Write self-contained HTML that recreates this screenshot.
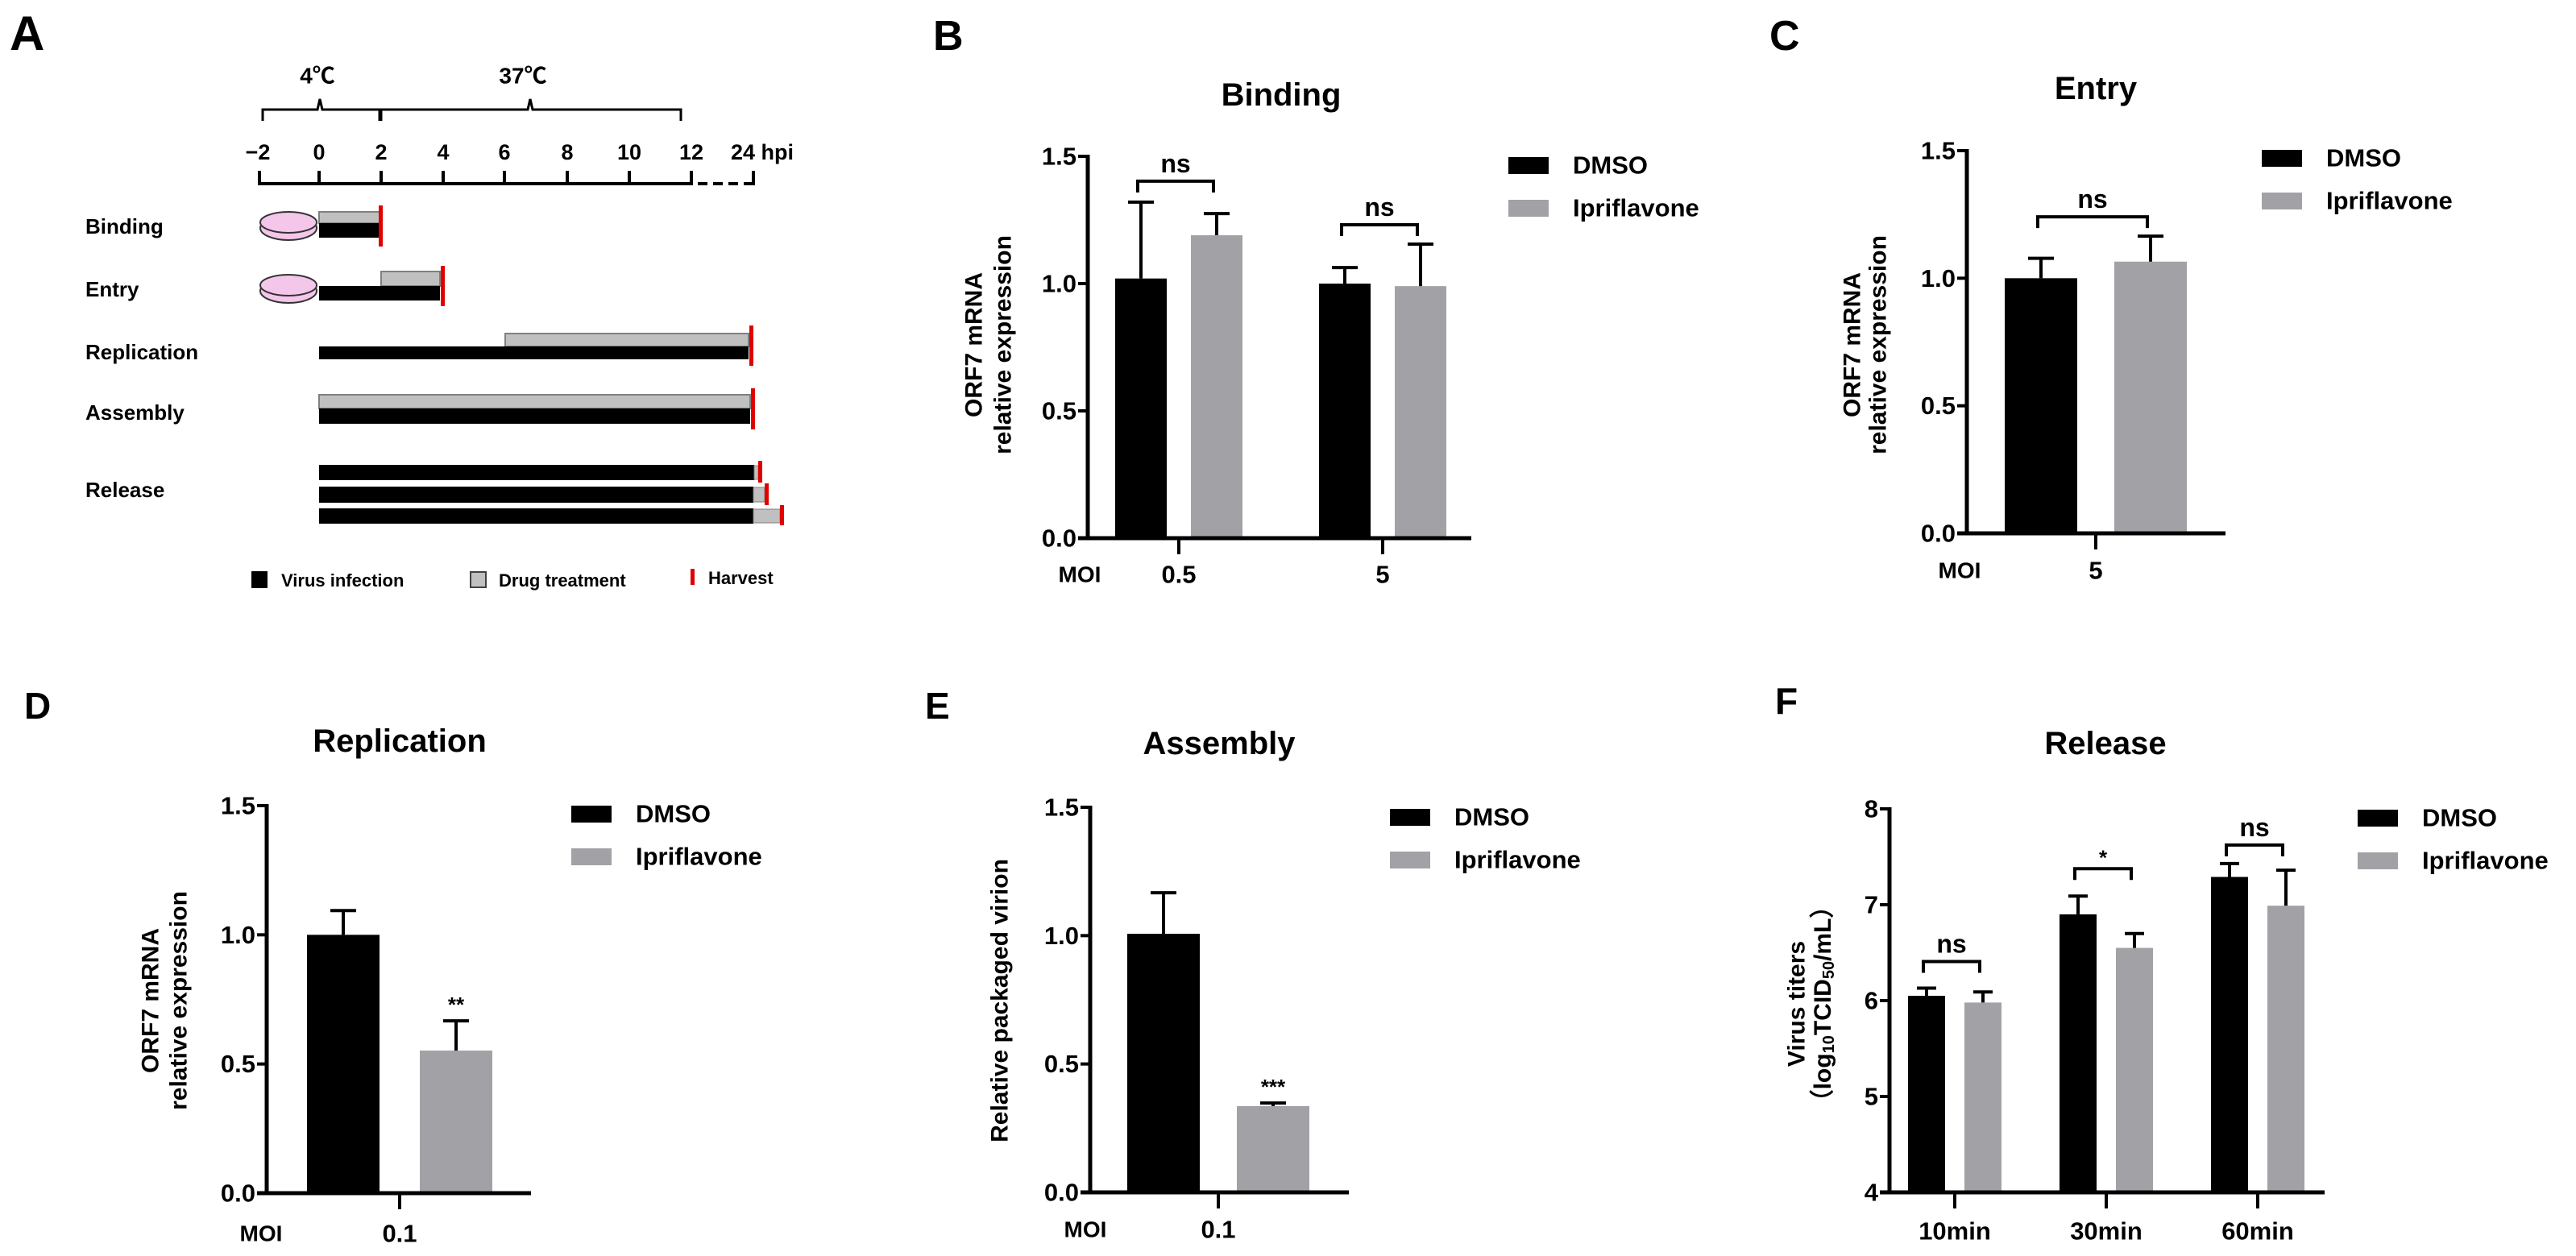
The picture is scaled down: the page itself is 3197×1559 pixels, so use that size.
<!DOCTYPE html>
<html><head><meta charset="utf-8">
<style>
html,body{margin:0;padding:0;background:#fff;}
svg{display:block;}
.nb{font-family:"Liberation Sans Narrow","Liberation Sans",sans-serif;font-weight:bold;}
.ab{font-family:"Liberation Sans",sans-serif;font-weight:bold;}
</style></head>
<body>
<svg id="fig" width="3197" height="1559" viewBox="0 0 3197 1559" xmlns="http://www.w3.org/2000/svg">
<!-- Panel letters -->
<text class="ab" x="12" y="62" font-size="60">A</text>
<text class="ab" x="1158" y="62" font-size="52">B</text>
<text class="ab" x="2196" y="62" font-size="52">C</text>
<text class="ab" x="30" y="892" font-size="46">D</text>
<text class="ab" x="1148" y="892" font-size="46">E</text>
<text class="ab" x="2203" y="886" font-size="46">F</text>

<!-- Panel A timeline -->
<g id="panelA" font-family="Liberation Sans, sans-serif" font-weight="bold">
  <g fill="none" stroke="#000" stroke-width="3">
    <path d="M326,150 L326,136 L394,136 L397,123 L400,136 L471,136 L471,150"/>
    <path d="M473,150 L473,136 L655,136 L658,123 L661,136 L845,136 L845,150"/>
  </g>
  <text x="394" y="94" font-size="28" text-anchor="middle" dominant-baseline="central" font-family="Liberation Sans Narrow, Liberation Sans, Noto Sans CJK SC, sans-serif">4℃</text>
  <text x="649" y="94" font-size="28" text-anchor="middle" dominant-baseline="central" font-family="Liberation Sans Narrow, Liberation Sans, Noto Sans CJK SC, sans-serif">37℃</text>
  <g stroke="#000" stroke-width="4">
    <line x1="320" y1="228" x2="860" y2="228"/>
    <line x1="866" y1="228" x2="937" y2="228" stroke-dasharray="12,7"/>
    <line x1="322" y1="212" x2="322" y2="230"/><line x1="396" y1="212" x2="396" y2="230"/>
    <line x1="473" y1="212" x2="473" y2="230"/><line x1="550" y1="212" x2="550" y2="230"/>
    <line x1="626" y1="212" x2="626" y2="230"/><line x1="704" y1="212" x2="704" y2="230"/>
    <line x1="781" y1="212" x2="781" y2="230"/><line x1="858" y1="212" x2="858" y2="230"/>
    <line x1="935" y1="212" x2="935" y2="230"/>
  </g>
  <g font-size="27" text-anchor="middle" font-family="Liberation Sans Narrow, Liberation Sans, sans-serif">
    <text x="320" y="198">−2</text><text x="396" y="198">0</text><text x="473" y="198">2</text>
    <text x="550" y="198">4</text><text x="626" y="198">6</text><text x="704" y="198">8</text>
    <text x="781" y="198">10</text><text x="858" y="198">12</text><text x="907" y="198" text-anchor="start">24 hpi</text>
  </g>
  <g font-size="26">
    <text x="106" y="290">Binding</text><text x="106" y="368">Entry</text>
    <text x="106" y="446">Replication</text><text x="106" y="521">Assembly</text>
    <text x="106" y="617">Release</text>
  </g>
  <g>
    <ellipse cx="358" cy="283" rx="35" ry="15" fill="#f4c6ea" stroke="#333" stroke-width="2"/>
    <ellipse cx="358" cy="276" rx="35" ry="13" fill="#f4c6ea" stroke="#333" stroke-width="2"/>
  </g>
  <g>
    <ellipse cx="358" cy="361" rx="35" ry="15" fill="#f4c6ea" stroke="#333" stroke-width="2"/>
    <ellipse cx="358" cy="354" rx="35" ry="13" fill="#f4c6ea" stroke="#333" stroke-width="2"/>
  </g>
  <g>
    <rect x="396" y="263" width="75" height="14" fill="#c0c0c0" stroke="#808080" stroke-width="2"/>
    <rect x="396" y="277" width="75" height="18" fill="#000"/>
    <rect x="470" y="255" width="5" height="51" fill="#e00000"/>
    <rect x="473" y="337" width="73" height="18" fill="#c0c0c0" stroke="#808080" stroke-width="2"/>
    <rect x="396" y="355" width="150" height="18" fill="#000"/>
    <rect x="547" y="330" width="5" height="50" fill="#e00000"/>
    <rect x="627" y="414" width="302" height="16" fill="#c0c0c0" stroke="#808080" stroke-width="2"/>
    <rect x="396" y="430" width="533" height="16" fill="#000"/>
    <rect x="930" y="404" width="5" height="50" fill="#e00000"/>
    <rect x="396" y="490" width="535" height="17" fill="#c0c0c0" stroke="#808080" stroke-width="2"/>
    <rect x="396" y="507" width="535" height="19" fill="#000"/>
    <rect x="932" y="482" width="5" height="51" fill="#e00000"/>
    <rect x="396" y="577" width="540" height="19" fill="#000"/>
    <rect x="936" y="578" width="5" height="17" fill="#c0c0c0" stroke="#808080" stroke-width="1"/>
    <rect x="941" y="572" width="5" height="27" fill="#e00000"/>
    <rect x="396" y="604" width="539" height="20" fill="#000"/>
    <rect x="935" y="605" width="14" height="18" fill="#c0c0c0" stroke="#808080" stroke-width="1"/>
    <rect x="949" y="600" width="5" height="27" fill="#e00000"/>
    <rect x="396" y="631" width="539" height="19" fill="#000"/>
    <rect x="935" y="632" width="33" height="17" fill="#c0c0c0" stroke="#808080" stroke-width="1"/>
    <rect x="968" y="627" width="5" height="25" fill="#e00000"/>
  </g>
  <g font-size="22">
    <rect x="312" y="709" width="20" height="21" fill="#000"/>
    <text x="349" y="728">Virus infection</text>
    <rect x="584" y="710" width="19" height="19" fill="#c0c0c0" stroke="#404040" stroke-width="2"/>
    <text x="619" y="728">Drug treatment</text>
    <rect x="857" y="706" width="5" height="20" fill="#e00000"/>
    <text x="879" y="725">Harvest</text>
  </g>
</g>
<g id="charts"></g>
</svg>
<script>
// ---- Data arrays ----
// B Binding
const bindingCategories = ['0.5', '5'];
const bindingDmso = [1.02, 1.00];
const bindingDmsoErr = [1.32, 1.063];
const bindingIpri = [1.19, 0.99];
const bindingIpriErr = [1.275, 1.155];
const bindingSig = ['ns', 'ns'];
// C Entry
const entryCategories = ['5'];
const entryDmso = [1.00];
const entryDmsoErr = [1.078];
const entryIpri = [1.065];
const entryIpriErr = [1.165];
const entrySig = ['ns'];
// D Replication
const replicationCategories = ['0.1'];
const replicationDmso = [1.00];
const replicationDmsoErr = [1.094];
const replicationIpri = [0.552];
const replicationIpriErr = [0.667];
const replicationSig = ['**'];
// E Assembly
const assemblyCategories = ['0.1'];
const assemblyDmso = [1.007];
const assemblyDmsoErr = [1.167];
const assemblyIpri = [0.336];
const assemblyIpriErr = [0.348];
const assemblySig = ['***'];
// F Release
const releaseCategories = ['10min', '30min', '60min'];
const releaseDmso = [6.05, 6.90, 7.29];
const releaseDmsoErr = [6.13, 7.09, 7.43];
const releaseIpri = [5.98, 6.55, 6.99];
const releaseIpriErr = [6.09, 6.70, 7.36];
const releaseSig = ['ns', '*', 'ns'];
// tick arrays
const mrnaTicks = [0, 0.5, 1.0, 1.5];
const mrnaTickLabels = ['0.0', '0.5', '1.0', '1.5'];
const titerTicks = [4, 5, 6, 7, 8];
const titerTickLabels = ['4', '5', '6', '7', '8'];

const NS = 'http://www.w3.org/2000/svg';
const root = document.getElementById('charts');
function mk(parent, tag, attrs, name) {
  const el = document.createElementNS(NS, tag);
  for (const k in attrs) el.setAttribute(k, attrs[k]);
  
  
  parent.appendChild(el);
  return el;
}
function txt(parent, x, y, s, size, cls, anchor, name) {
  const t = mk(parent, 'text', {x: x, y: y, 'font-size': size, 'class': cls, 'text-anchor': anchor || 'middle', 'dominant-baseline': 'central'}, name);
  t.textContent = s;
  return t;
}

function drawChart(c, cats, dm, dmE, ip, ipE, sig, ticks, tickLabels) {
  const g = mk(root, 'g', {}, c.id + '-chart');
  const y = v => c.y0 - (v - c.vmin) / (c.vmax - c.vmin) * (c.y0 - c.yTop);
  const xc = i => c.firstTick + i * c.step;
  txt(g, c.titleX, c.titleY, c.title, 40, 'nb', 'middle', c.id + '-title');
  // y title
  const yt = mk(g, 'g', {transform: 'translate(' + 0 + ',' + c.yTitleY + ')'}, c.id + '-y-axis-title');
  c.yTitle.forEach((line, li) => {
    const t = mk(yt, 'text', {transform: 'translate(' + c.yTitleX[li] + ',0) rotate(-90)', 'font-size': 30, 'class': 'ab', 'text-anchor': 'middle', 'dominant-baseline': 'central'}, c.id + '-y-title-line');
    if (typeof line === 'string') { t.textContent = line; }
    else {
      line.forEach(p => {
        const s = document.createElementNS(NS, 'tspan');
        s.textContent = p[0];
        if (p[1]) s.setAttribute('dy', p[1]);
        if (p[2]) s.setAttribute('font-size', p[2]);
        t.appendChild(s);
      });
    }
  });
  // bars
  cats.forEach((cat, i) => {
    const cx = xc(i);
    const x1 = cx - c.off, x2 = cx + c.off;
    mk(g, 'rect', {x: x1 - c.bw / 2, y: y(dm[i]), width: c.bw, height: c.y0 - y(dm[i]), fill: '#000'}, 'bar-dmso-' + cat);
    mk(g, 'rect', {x: x2 - c.bw / 2, y: y(ip[i]), width: c.bw, height: c.y0 - y(ip[i]), fill: '#a2a2a6'}, 'bar-ipriflavone-' + cat);
    mk(g, 'line', {x1: x1, x2: x1, y1: y(dm[i]), y2: y(dmE[i]), stroke: '#000', 'stroke-width': 4}, 'error-bar-dmso-' + cat);
    mk(g, 'line', {x1: x1 - c.cap, x2: x1 + c.cap, y1: y(dmE[i]), y2: y(dmE[i]), stroke: '#000', 'stroke-width': 4}, 'error-cap-dmso-' + cat);
    mk(g, 'line', {x1: x2, x2: x2, y1: y(ip[i]), y2: y(ipE[i]), stroke: '#000', 'stroke-width': 4}, 'error-bar-ipriflavone-' + cat);
    mk(g, 'line', {x1: x2 - c.cap, x2: x2 + c.cap, y1: y(ipE[i]), y2: y(ipE[i]), stroke: '#000', 'stroke-width': 4}, 'error-cap-ipriflavone-' + cat);
    if (c.bracket) {
      const by = Math.min(y(dmE[i]), y(ipE[i])) - c.gap[i];
      mk(g, 'path', {d: 'M' + (x1 - 4) + ',' + (by + 14) + ' L' + (x1 - 4) + ',' + by + ' L' + (x2 - 4) + ',' + by + ' L' + (x2 - 4) + ',' + (by + 14), fill: 'none', stroke: '#000', 'stroke-width': 4}, 'significance-bracket-' + cat);
      txt(g, (x1 + x2) / 2 - 4, by - (sig[i] === '*' ? 14 : 22), sig[i], sig[i] === '*' ? 26 : 32, 'nb', 'middle', 'significance-label-' + cat);
    } else {
      txt(g, x2, y(ipE[i]) - 20, sig[i], 26, 'nb', 'middle', 'significance-label-' + cat);
    }
    mk(g, 'line', {x1: cx, x2: cx, y1: c.y0, y2: c.y0 + 20, stroke: '#000', 'stroke-width': 4}, 'x-tick-' + cat);
    txt(g, cx, c.xLabelY, cat, 31, 'nb', 'middle', 'x-tick-label-' + cat);
  });
  // axes
  mk(g, 'line', {x1: c.x0, x2: c.x0, y1: c.yTop - 2, y2: c.y0 + 2, stroke: '#000', 'stroke-width': 5}, c.id + '-y-axis');
  mk(g, 'line', {x1: c.x0 - 12, x2: c.xEnd, y1: c.y0, y2: c.y0, stroke: '#000', 'stroke-width': 5}, c.id + '-x-axis');
  ticks.forEach((t, i) => {
    mk(g, 'line', {x1: c.x0 - 12, x2: c.x0, y1: y(t), y2: y(t), stroke: '#000', 'stroke-width': 4}, 'y-tick-' + tickLabels[i]);
    txt(g, c.x0 - 14, y(t), tickLabels[i], 31, 'nb', 'end', 'y-tick-label-' + tickLabels[i]);
  });
  if (c.moiX) txt(g, c.moiX, c.xLabelY, 'MOI', 28, 'nb', 'middle', c.id + '-moi-label');
  // legend
  const lg = mk(g, 'g', {}, c.id + '-legend');
  mk(lg, 'rect', {x: c.legX, y: c.legY, width: 50, height: 21, fill: '#000'}, 'legend-swatch-dmso');
  txt(lg, c.legX + 80, c.legY + 10, 'DMSO', 31, 'nb', 'start', 'legend-label-dmso');
  mk(lg, 'rect', {x: c.legX, y: c.legY + 53, width: 50, height: 21, fill: '#a2a2a6'}, 'legend-swatch-ipriflavone');
  txt(lg, c.legX + 80, c.legY + 63, 'Ipriflavone', 31, 'nb', 'start', 'legend-label-ipriflavone');
}

drawChart({id: 'binding', title: 'Binding', titleX: 1590, titleY: 118, x0: 1350, xEnd: 1826, y0: 668, yTop: 194, vmin: 0, vmax: 1.5,
  firstTick: 1463, step: 253, off: 47, bw: 64, cap: 16, bracket: true, gap: [26, 24], xLabelY: 713, moiX: 1340,
  yTitle: ['ORF7 mRNA', 'relative expression'], yTitleX: [1209, 1245], yTitleY: 428, legX: 1872, legY: 195},
  bindingCategories, bindingDmso, bindingDmsoErr, bindingIpri, bindingIpriErr, bindingSig, mrnaTicks, mrnaTickLabels);

drawChart({id: 'entry', title: 'Entry', titleX: 2601, titleY: 110, x0: 2441, xEnd: 2762, y0: 662, yTop: 187, vmin: 0, vmax: 1.5,
  firstTick: 2601, step: 0, off: 68, bw: 90, cap: 16, bracket: true, gap: [24], xLabelY: 708, moiX: 2432,
  yTitle: ['ORF7 mRNA', 'relative expression'], yTitleX: [2299, 2331], yTitleY: 428, legX: 2807, legY: 186},
  entryCategories, entryDmso, entryDmsoErr, entryIpri, entryIpriErr, entrySig, mrnaTicks, mrnaTickLabels);

drawChart({id: 'replication', title: 'Replication', titleX: 496, titleY: 920, x0: 331, xEnd: 659, y0: 1481, yTop: 1000, vmin: 0, vmax: 1.5,
  firstTick: 496, step: 0, off: 70, bw: 90, cap: 16, bracket: false, gap: [0], xLabelY: 1531, moiX: 324,
  yTitle: ['ORF7 mRNA', 'relative expression'], yTitleX: [187, 222], yTitleY: 1242, legX: 709, legY: 1000},
  replicationCategories, replicationDmso, replicationDmsoErr, replicationIpri, replicationIpriErr, replicationSig, mrnaTicks, mrnaTickLabels);

drawChart({id: 'assembly', title: 'Assembly', titleX: 1513, titleY: 923, x0: 1353, xEnd: 1674, y0: 1480, yTop: 1002, vmin: 0, vmax: 1.5,
  firstTick: 1512, step: 0, off: 68, bw: 90, cap: 16, bracket: false, gap: [0], xLabelY: 1526, moiX: 1347,
  yTitle: ['Relative packaged virion'], yTitleX: [1241], yTitleY: 1242, legX: 1725, legY: 1004},
  assemblyCategories, assemblyDmso, assemblyDmsoErr, assemblyIpri, assemblyIpriErr, assemblySig, mrnaTicks, mrnaTickLabels);

drawChart({id: 'release', title: 'Release', titleX: 2613, titleY: 923, x0: 2345, xEnd: 2885, y0: 1480, yTop: 1004, vmin: 4, vmax: 8,
  firstTick: 2426, step: 188, off: 35, bw: 46, cap: 12, bracket: true, gap: [33, 34, 23], xLabelY: 1528, moiX: 0,
  yTitle: ['Virus titers', [['（log', 0, 0], ['10', 8, 20], ['TCID', -8, 30], ['50', 8, 20], ['/mL）', -8, 30]]], yTitleX: [2230, 2262], yTitleY: 1246, legX: 2926, legY: 1005},
  releaseCategories, releaseDmso, releaseDmsoErr, releaseIpri, releaseIpriErr, releaseSig, titerTicks, titerTickLabels);
</script>
</body></html>
